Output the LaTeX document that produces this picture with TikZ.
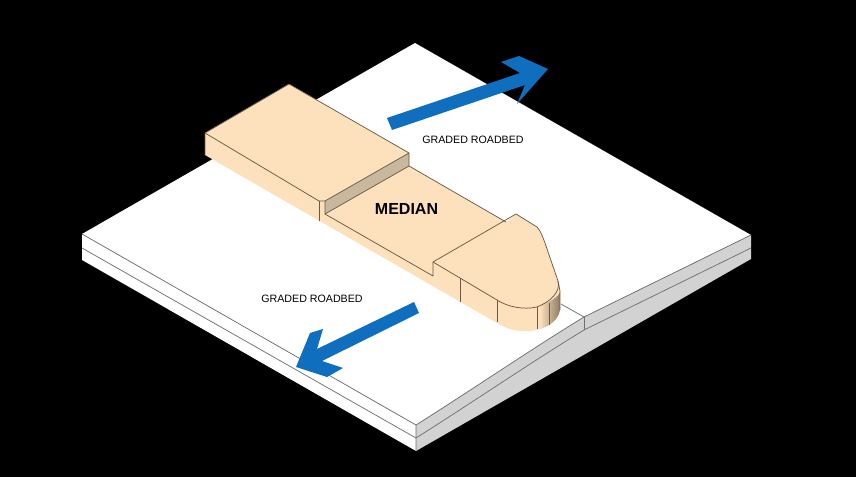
\documentclass[tikz,border=0pt]{standalone}
\usepackage{fontspec}
\setmainfont{Liberation Sans}
\definecolor{beige}{HTML}{FDE0BC}
\definecolor{tanface}{HTML}{C9B8A0}
\definecolor{sideg}{HTML}{D2D2D2}
\definecolor{arrowb}{HTML}{0F6EBE}
\definecolor{edgeg}{HTML}{707070}
\definecolor{edgeb}{HTML}{6A5A45}
\tikzset{
  groundedge/.style={draw=edgeg,line width=0.55pt,line join=round},
  medianedge/.style={draw=edgeb,line width=0.55pt,line join=round},
  flowarrow/.style={fill=arrowb,draw=none},
  lbl/.style={inner sep=0pt,text=black,font=\fontsize{8}{9.6}\selectfont},
  medlbl/.style={inner sep=0pt,text=black,font=\fontsize{12}{14}\selectfont\bfseries}
}
\begin{document}
\begin{tikzpicture}[x=0.75pt,y=-0.75pt]
\useasboundingbox (0,0) rectangle (856,477);
\fill[black] (0,0) rectangle (856,477);
% ground: white faces
\fill[white] (82,234) -- (415,43) -- (751,235) -- (584,317) -- (416,425) -- cycle;
\fill[white] (82,234) -- (416,425) -- (416,451) -- (82,260) -- cycle;
% ground: grey side
\fill[sideg] (416,425) .. controls (470,391) and (530,350) .. (584,317) -- (751,235) -- (751,259) -- (416,451) -- cycle;
% ground lines
\draw[groundedge] (82,234) -- (416,425) -- (416,451);
\draw[groundedge] (82,248) -- (416,438);
\draw[groundedge] (416,425) .. controls (470,391) and (530,350) .. (584,317) -- (751,235);
\draw[groundedge] (416,438) .. controls (470,404) and (530,363) .. (584,330) -- (751,248);
\draw[groundedge] (584,317) -- (584,330);
\draw[groundedge] (561,304) -- (584,317);
% median body
\fill[beige] (205,133) -- (289,84) -- (409,153) -- (409,166) -- (506,222) -- (516,214) -- (537,227)
  .. controls (541,231) and (543,238) .. (545,243) -- (558,281)
  .. controls (560,285) and (560,288) .. (560,291) -- (560,310)
  .. controls (558,320) and (548,329) .. (530,331)
  .. controls (517,332) and (507,329) .. (497,323) -- (205,155) -- cycle;
% rounded end shading
\shade[left color=beige,right color=edgeb!75!beige] (540,306) -- (552,300) .. controls (557,297) and (560,294) .. (560,291) -- (560,310)
  .. controls (558,320) and (550,326) .. (540,329) -- cycle;
% tan step face
\fill[tanface] (325,201) -- (409,153) -- (409,166) -- (325,214) -- cycle;
% median edges
\draw[medianedge] (205,155) -- (205,133) -- (289,84) -- (409,153) -- (409,166) -- (325,214) -- (325,201) -- (409,153);
\draw[medianedge] (205,133) -- (319,201) -- (325,201);
\draw[medianedge] (319,201) -- (319,221);
\draw[medianedge] (325,214) -- (433,276) -- (433,262);
\draw[medianedge] (409,166) -- (506,222);
\draw[medianedge] (433,262) -- (516,214) -- (537,227)
  .. controls (541,231) and (543,238) .. (545,243) -- (558,281)
  .. controls (561,292) and (550,302) .. (537,307)
  .. controls (523,310) and (508,307) .. (497,300) -- (433,262);
\draw[medianedge] (460,279) -- (460,302);
\draw[medianedge] (497,300) -- (497,322);
\draw[medianedge] (537,307) -- (537,329);
\draw[medianedge] (549,303) -- (549,325);
\draw[medianedge] (558,281) -- (560,291) -- (560,310);
% arrows
\fill[flowarrow] (387,118) -- (520,73) -- (501,62) -- (519,56) -- (548,69) -- (517,104) -- (525,85) -- (392,130) -- cycle;
\fill[flowarrow] (414,302) -- (419,313) -- (322,361) -- (343,368) -- (327,377) -- (296,367) -- (310,333) -- (323,329) -- (317,349) -- cycle;
% labels
\node[lbl] (roadTop) at (473,140) {GRADED ROADBED};
\node[lbl] (roadBottom) at (312,299) {GRADED ROADBED};
\node[medlbl] (median) at (406.5,209) {MEDIAN};
\end{tikzpicture}
\end{document}
